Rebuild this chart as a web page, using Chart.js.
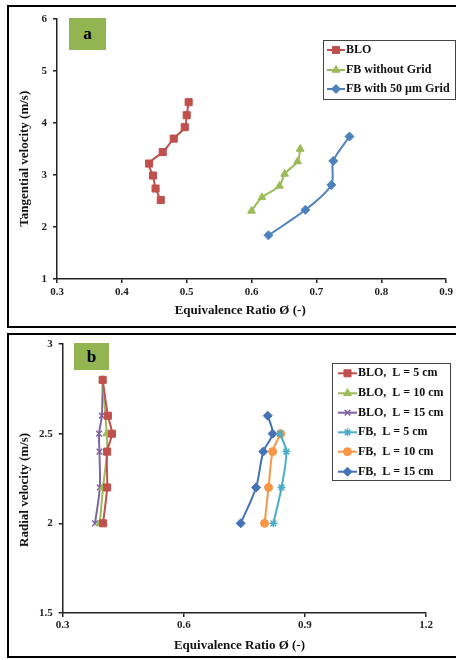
<!DOCTYPE html>
<html><head><meta charset="utf-8">
<script src="https://cdn.jsdelivr.net/npm/chart.js@4/dist/chart.umd.min.js"></script>
<style>
html,body{margin:0;padding:0;background:#fff;width:456px;height:660px;overflow:hidden;}
.wrap{position:absolute;left:0;width:456px;height:330px;}
#wa{top:0}#wb{top:330px}
.frame{position:absolute;border:2px solid #000;box-sizing:border-box;pointer-events:none;}
.tag{position:absolute;background:#92B552;font:bold 17px "Liberation Serif",serif;color:#000;display:flex;align-items:center;justify-content:center;}
</style></head>
<body>
<div class="wrap" id="wa"><canvas id="ca" width="456" height="330"></canvas></div>
<div class="wrap" id="wb"><canvas id="cb" width="456" height="330"></canvas></div>
<div class="frame" style="left:7px;top:5px;width:460px;height:323px;"></div>
<div class="frame" style="left:7px;top:333px;width:460px;height:325px;"></div>
<div class="tag" style="left:69px;top:18px;width:37px;height:32px;">a</div>
<div class="tag" style="left:74px;top:343px;width:35px;height:27px;">b</div>
<script>
// ---------- Panel a data ----------
const phiA_BLO = [0.460, 0.452, 0.448, 0.442, 0.463, 0.480, 0.497, 0.500, 0.503];
const velA_BLO = [2.52, 2.74, 2.99, 3.22, 3.44, 3.70, 3.92, 4.15, 4.40];
const phiA_FB  = [0.600, 0.616, 0.643, 0.651, 0.671, 0.675];
const velA_FB  = [2.31, 2.57, 2.79, 3.02, 3.26, 3.50];
const phiA_FBG = [0.626, 0.683, 0.723, 0.726, 0.751];
const velA_FBG = [1.84, 2.33, 2.81, 3.27, 3.74];
const labelsA  = ['BLO', 'FB without Grid', 'FB with 50 \u00b5m Grid'];

// ---------- Panel b data ----------
const phiB_BLO5  = [0.400, 0.410, 0.410, 0.422, 0.412, 0.399];
const velB_BLO5  = [2.0, 2.2, 2.4, 2.5, 2.6, 2.8];
const phiB_BLO10 = [0.392, 0.400, 0.410, 0.409, 0.399];
const velB_BLO10 = [2.0, 2.2, 2.4, 2.5, 2.8];
const phiB_BLO15 = [0.380, 0.392, 0.391, 0.390, 0.397, 0.399];
const velB_BLO15 = [2.0, 2.2, 2.4, 2.5, 2.6, 2.8];
const phiB_FB5   = [0.822, 0.842, 0.854, 0.838];
const velB_FB5   = [2.0, 2.2, 2.4, 2.5];
const phiB_FB10  = [0.800, 0.810, 0.820, 0.840];
const velB_FB10  = [2.0, 2.2, 2.4, 2.5];
const phiB_FB15  = [0.741, 0.779, 0.797, 0.820, 0.808];
const velB_FB15  = [2.0, 2.2, 2.4, 2.5, 2.6];
const labelsB = ['BLO,  L = 5 cm', 'BLO,  L = 10 cm', 'BLO,  L = 15 cm', 'FB,  L = 5 cm', 'FB,  L = 10 cm', 'FB,  L = 15 cm'];

// ---------- axis ticks ----------
const ticksA_x = [0.3, 0.9, 0.1];
const ticksA_y = [1, 6, 1];
const ticksB_x = [0.3, 1.2, 0.3];
const ticksB_y = [1.5, 3, 0.5];

const pts = (xs, ys) => xs.map((x, i) => ({x: x, y: ys[i]}));
const FONT = '"Liberation Serif", "Times New Roman", serif';
Chart.defaults.font.family = FONT;

function ds(label, xs, ys, color, style, r, bw) {
  return {
    label: label, data: pts(xs, ys), showLine: true, tension: 0.3,
    borderColor: color, borderWidth: 2,
    pointStyle: style, pointRadius: r, pointHoverRadius: r,
    pointBackgroundColor: color, pointBorderColor: color, pointBorderWidth: bw
  };
}

const boxLegend = {
  id: 'boxLegend',
  afterDraw(chart, args, o) {
    const ctx = chart.ctx;
    ctx.save();
    ctx.fillStyle = '#fff';
    ctx.fillRect(o.x, o.y, o.w, o.h);
    ctx.strokeStyle = '#444'; ctx.lineWidth = 1;
    ctx.strokeRect(o.x + 0.5, o.y + 0.5, o.w, o.h);
    chart.data.datasets.forEach((d, i) => {
      const cy = o.rows[i];
      ctx.strokeStyle = d.borderColor; ctx.lineWidth = 2;
      ctx.beginPath(); ctx.moveTo(o.x0, cy); ctx.lineTo(o.x1, cy); ctx.stroke();
      ctx.fillStyle = d.pointBackgroundColor; ctx.strokeStyle = d.pointBorderColor; ctx.lineWidth = d.pointBorderWidth;
      Chart.helpers.drawPoint(ctx, {pointStyle: d.pointStyle, rotation: 0, radius: d.pointRadius, borderWidth: d.pointBorderWidth}, (o.x0 + o.x1) / 2, cy);
      ctx.fillStyle = '#111';
      ctx.font = 'bold 12px ' + FONT;
      ctx.textBaseline = 'middle'; ctx.textAlign = 'left';
      ctx.fillText(d.label, o.tx, cy);
    });
    ctx.restore();
  }
};

function scales(tx, ty, yw, xh, xTitle, yTitle, xPad, yTitlePad, xDec) {
  const common = {
    grid: {drawOnChartArea: false, color: '#222', lineWidth: 1.5, tickLength: 4},
    border: {color: '#222', width: 1.5},
  };
  return {
    x: Object.assign({}, common, {
      type: 'linear', min: tx[0], max: tx[1],
      ticks: {stepSize: tx[2], color: '#222', padding: xPad, font: {size: 11, weight: 'bold'},
              callback: v => Number(v).toFixed(xDec)},
      title: {display: true, text: xTitle, color: '#111', font: {size: 13, weight: 'bold'}, padding: {top: 0, bottom: 0}},
      afterFit: s => { s.height = xh; }
    }),
    y: Object.assign({}, common, {
      type: 'linear', min: ty[0], max: ty[1],
      ticks: {stepSize: ty[2], color: '#222', padding: 6, font: {size: 11, weight: 'bold'},
              callback: v => String(Number(Number(v).toFixed(2)))},
      title: {display: true, text: yTitle, color: '#111', font: {size: 13, weight: 'bold'}, padding: {top: yTitlePad, bottom: 0}},
      afterFit: s => { s.width = yw; }
    })
  };
}

new Chart(document.getElementById('ca'), {
  type: 'scatter',
  data: {datasets: [
    ds(labelsA[0], phiA_BLO, velA_BLO, '#C0504D', 'rect', 5, 1),
    ds(labelsA[1], phiA_FB, velA_FB, '#9BBB59', 'triangle', 4.5, 1),
    ds(labelsA[2], phiA_FBG, velA_FBG, '#4F81BD', 'rectRot', 4.5, 1)
  ]},
  options: {
    responsive: false, animation: false, events: [],
    layout: {padding: {left: 0, top: 19, right: 9, bottom: 12}},
    scales: scales(ticksA_x, ticksA_y, 57, 39,
      'Equivalence Ratio \u00d8 (-)       ', 'Tangential velocity (m/s)      ', 3, 17, 1),
    plugins: {
      legend: {display: false}, tooltip: {enabled: false},
      boxLegend: {x: 323, y: 40, w: 132, h: 59, rows: [50, 70, 89], x0: 327, x1: 345, tx: 346}
    }
  },
  plugins: [boxLegend]
});

new Chart(document.getElementById('cb'), {
  type: 'scatter',
  data: {datasets: [
    ds(labelsB[0], phiB_BLO5, velB_BLO5, '#C0504D', 'rect', 5, 1),
    ds(labelsB[1], phiB_BLO10, velB_BLO10, '#9BBB59', 'triangle', 4.5, 1),
    ds(labelsB[2], phiB_BLO15, velB_BLO15, '#8064A2', 'crossRot', 4, 1.5),
    ds(labelsB[3], phiB_FB5, velB_FB5, '#4BACC6', 'star', 4, 1.5),
    ds(labelsB[4], phiB_FB10, velB_FB10, '#F79646', 'circle', 4, 1),
    ds(labelsB[5], phiB_FB15, velB_FB15, '#4472B8', 'rectRot', 4.5, 1)
  ]},
  options: {
    responsive: false, animation: false, events: [],
    layout: {padding: {left: 0, top: 14, right: 30, bottom: 7}},
    scales: scales(ticksB_x, ticksB_y, 62.7, 40,
      'Equivalence Ratio \u00d8 (-)   ', 'Radial velocity (m/s)       ', 2, 17, 1),
    plugins: {
      legend: {display: false}, tooltip: {enabled: false},
      boxLegend: {x: 332, y: 33, w: 118, h: 117, rows: [43.3, 63.3, 82.7, 102.3, 121.7, 141.7], x0: 338, x1: 357, tx: 358}
    }
  },
  plugins: [boxLegend]
});
</script>
</body></html>
